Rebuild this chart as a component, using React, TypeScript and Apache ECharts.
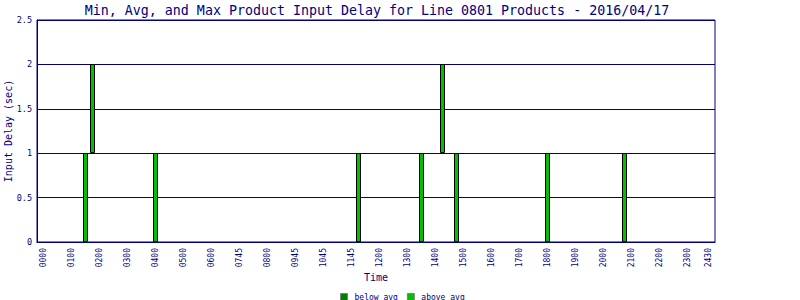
import React, { useEffect, useRef } from "react";
import * as echarts from "echarts";

const titleText = "Min, Avg, and Max Product Input Delay for Line 0801 Products - 2016/04/17";
const xTickSlots = [0, 4, 8, 12, 16, 20, 24, 28, 32, 36, 40, 44, 48, 52, 56, 60, 64, 68, 72, 76, 80, 84, 88, 92, 95];
const xTickLabels = [
  "0000", "0100", "0200", "0300", "0400", "0500", "0600", "0745", "0800", "0945", "1045", "1145", "1200",
  "1300", "1400", "1500", "1600", "1700", "1800", "1900", "2000", "2100", "2200", "2300", "2430",
];
const barSlots = [6, 7, 16, 45, 54, 57, 59, 72, 83];
const minDelay = [0, 1, 0, 0, 0, 1, 0, 0, 0];
const maxDelay = [1, 2, 1, 1, 1, 2, 1, 1, 1];

const NAVY = "#000080";
const FONT = "DejaVu Sans Mono";

export default function App() {
  const ref = useRef<HTMLDivElement>(null);
  useEffect(() => {
    if (!ref.current) return;
    const chart = echarts.init(ref.current, null, { renderer: "svg" });
    const labelFor = (v: number) => {
      const i = xTickSlots.indexOf(Math.round(v));
      return i >= 0 ? xTickLabels[i] : "";
    };
    chart.setOption({
      animation: false,
      backgroundColor: "#ffffff",
      graphic: [
        {
          type: "text",
          x: 377,
          y: 4,
          style: {
            text: titleText,
            textAlign: "center",
            textVerticalAlign: "top",
            fill: NAVY,
            font: `13.3px "${FONT}"`,
          },
        },
      ],
      grid: {
        left: 37,
        right: 85,
        top: 20,
        bottom: 58,
        show: true,
        borderColor: NAVY,
        borderWidth: 1,
        backgroundColor: "transparent",
        outerBoundsMode: "none",
        containLabel: false,
      },
      legend: {
        data: ["below avg", "above avg"],
        left: 335,
        top: 288,
        icon: "rect",
        itemWidth: 7,
        itemHeight: 7,
        itemGap: 9,
        itemStyle: { borderColor: "#808080", borderWidth: 1 },
        textStyle: { color: NAVY, fontFamily: FONT, fontSize: 8, padding: [0, 0, 0, 2] },
        selectedMode: false,
      },
      xAxis: {
        type: "value",
        min: -1,
        max: 95.86,
        name: "Time",
        nameLocation: "middle",
        nameGap: 30,
        nameMoveOverlap: false,
        nameTextStyle: { color: NAVY, fontFamily: FONT, fontSize: 10 },
        axisLine: { show: true, onZero: false, lineStyle: { color: NAVY, width: 1 } },
        axisTick: { show: false },
        splitLine: { show: false },
        axisLabel: {
          customValues: xTickSlots,
          rotate: 90,
          margin: 6,
          color: NAVY,
          fontFamily: FONT,
          fontSize: 8,
          formatter: (v: number) => labelFor(v),
        },
      },
      yAxis: {
        type: "value",
        min: 0,
        max: 2.5,
        interval: 0.5,
        name: "Input Delay (sec)",
        nameLocation: "middle",
        nameGap: 24,
        nameMoveOverlap: false,
        nameRotate: 90,
        nameTextStyle: { color: NAVY, fontFamily: FONT, fontSize: 10 },
        axisLine: { show: true, onZero: false, lineStyle: { color: NAVY, width: 1 } },
        axisTick: { show: false },
        splitLine: { show: true, lineStyle: { color: NAVY, width: 1 } },
        axisLabel: { color: NAVY, fontFamily: FONT, fontSize: 8.5, margin: 5 },
      },
      series: [
        {
          name: "below avg",
          type: "bar",
          barWidth: 4,
          itemStyle: { color: "#008000", borderColor: "#000000", borderWidth: 1 },
          data: [],
        },
        {
          name: "above avg",
          type: "custom",
          itemStyle: { color: "#00c000" },
          encode: { x: 0, y: [1, 2] },
          data: barSlots.map((s, i) => [s, minDelay[i], maxDelay[i]]),
          renderItem: (params: any, api: any) => {
            const x = api.value(0);
            const lo = api.coord([x, api.value(1)]);
            const hi = api.coord([x, api.value(2)]);
            const cx = Math.floor(lo[0]);
            const yTop = Math.round(hi[1]);
            const yBot = Math.round(lo[1]);
            return {
              type: "rect",
              shape: { x: cx - 2 + 0.5, y: yTop + 0.5, width: 4, height: yBot - yTop - 1 },
              style: { fill: "#00c000", stroke: "#000000", lineWidth: 1 },
            };
          },
        },
      ],
    });
    return () => chart.dispose();
  }, []);
  return (
    <div
      ref={ref}
      style={{ position: "absolute", left: 0, top: 0, width: 800, height: 300 }}
    />
  );
}
